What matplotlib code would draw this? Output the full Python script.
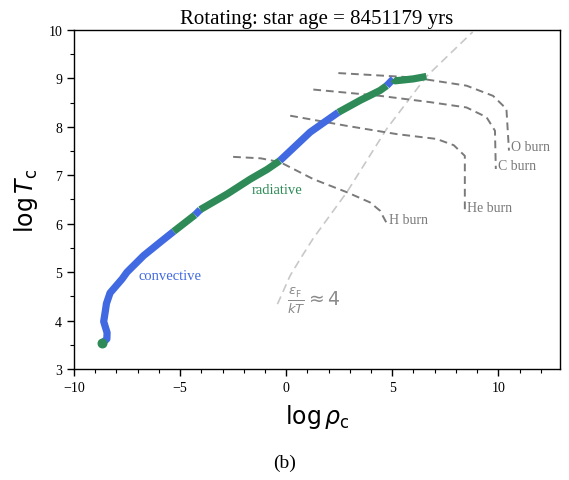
import matplotlib
matplotlib.use("Agg")
import matplotlib.pyplot as plt
import numpy as np

# central track, zone applies to the segment starting at each point
track_x = [-8.67, -8.45, -8.44, -8.60, -8.52, -8.47, -8.30, -7.73, -7.50, -6.72,
           -5.93, -5.30, -4.30, -4.05, -2.79, -1.69, -0.90, -0.30, 1.13, 2.46,
           3.50, 4.42, 4.74, 5.05, 5.13, 5.99, 6.61]
track_y = [3.53, 3.62, 3.75, 3.98, 4.20, 4.35, 4.57, 4.86, 5.00, 5.34,
           5.62, 5.84, 6.18, 6.29, 6.61, 6.92, 7.12, 7.30, 7.89, 8.30,
           8.55, 8.75, 8.85, 8.99, 8.95, 8.99, 9.04]
track_zone = ['conv'] * 11 + ['rad', 'conv'] + ['rad'] * 4 + ['conv'] * 2 + ['rad'] * 3 + ['conv'] + ['rad'] * 4

# burning lines
h_burn_x = [-2.5, -1.2, -0.28, 1.28, 2.86, 3.95, 4.42, 4.75]
h_burn_y = [7.38, 7.35, 7.27, 6.92, 6.65, 6.44, 6.27, 6.00]
he_burn_x = [0.19, 2.86, 5.21, 7.09, 7.90, 8.42, 8.42]
he_burn_y = [8.23, 8.02, 7.85, 7.75, 7.62, 7.40, 6.27]
c_burn_x = [1.28, 4.42, 6.78, 8.50, 9.44, 9.84, 9.88]
c_burn_y = [8.77, 8.64, 8.51, 8.40, 8.20, 7.92, 7.13]
o_burn_x = [2.46, 5.99, 8.50, 9.75, 10.38, 10.50]
o_burn_y = [9.11, 9.02, 8.85, 8.64, 8.37, 7.51]

# degeneracy line eps_F/kT ~ 4
degen_x = [-0.41, 0.19, 0.66, 1.28, 2.86, 4.74, 6.61, 8.79]
degen_y = [4.34, 4.93, 5.27, 5.70, 6.65, 7.96, 9.04, 9.96]

colors = {'conv': '#4169e1', 'rad': '#2e8b57'}

plt.rcParams['font.family'] = ['Liberation Serif', 'DejaVu Serif']
plt.rcParams['mathtext.fontset'] = 'dejavusans'

fig = plt.figure(figsize=(5.69, 4.81), dpi=100)
ax = fig.add_axes([0.130, 0.2308, 0.854, 0.7048])

burn_style = dict(color='#7a7a7a', ls='--', lw=1.4, dashes=(4, 2.5))
ax.plot(degen_x, degen_y, color='#c8c8c8', ls='--', lw=1.2, dashes=(5, 3))
ax.plot(h_burn_x, h_burn_y, **burn_style)
ax.plot(he_burn_x, he_burn_y, **burn_style)
ax.plot(c_burn_x, c_burn_y, **burn_style)
ax.plot(o_burn_x, o_burn_y, **burn_style)

# draw track in runs of the same zone
i = 0
n = len(track_x)
while i < n - 1:
    j = i
    while j < n - 1 and track_zone[j] == track_zone[i]:
        j += 1
    ax.plot(track_x[i:j + 1], track_y[i:j + 1], color=colors[track_zone[i]],
            lw=5.2, solid_capstyle='butt', solid_joinstyle='round')
    i = j
ax.scatter(track_x[0], track_y[0], s=38, color=colors['rad'], zorder=3)

lab_gray = '#7a7a7a'
ax.text(4.85, 6.08, 'H burn', color=lab_gray, fontsize=10, va='center')
ax.text(8.5, 6.34, 'He burn', color=lab_gray, fontsize=10, va='center')
ax.text(9.98, 7.2, 'C burn', color=lab_gray, fontsize=10, va='center')
ax.text(10.58, 7.59, 'O burn', color=lab_gray, fontsize=10, va='center')
ax.text(0.05, 4.42, r'$\frac{\varepsilon_{\rm F}}{kT}\approx 4$', color='#8a8a8a',
        fontsize=13.5, va='center')
ax.text(-6.95, 4.94, 'convective', color=colors['conv'], fontsize=10.5, va='center')
ax.text(-1.6, 6.70, 'radiative', color=colors['rad'], fontsize=10.5, va='center')

ax.set_xlim(-10, 12.9)
ax.set_ylim(3, 10)
ax.set_xticks([-10, -5, 0, 5, 10])
ax.set_xticks(np.arange(-10, 13, 1), minor=True)
ax.set_yticks(np.arange(3, 11, 1))
ax.set_yticks(np.arange(3, 10.01, 0.5), minor=True)
ax.tick_params(labelsize=10, direction='out', length=5, width=1)
ax.tick_params(which='minor', length=3, width=0.8)
for sp in ax.spines.values():
    sp.set_linewidth(1.0)

ax.set_xlabel(r'$\log\rho_{\rm c}$', fontsize=17, labelpad=6)
ax.set_ylabel(r'$\log T_{\rm c}$', fontsize=17, labelpad=6)
ax.set_title('Rotating: star age = 8451179 yrs', fontsize=15, pad=5)

fig.text(0.5, 1 - 463 / 481, '(b)', ha='center', va='center', fontsize=14)

fig.savefig('out.png', dpi=100)
